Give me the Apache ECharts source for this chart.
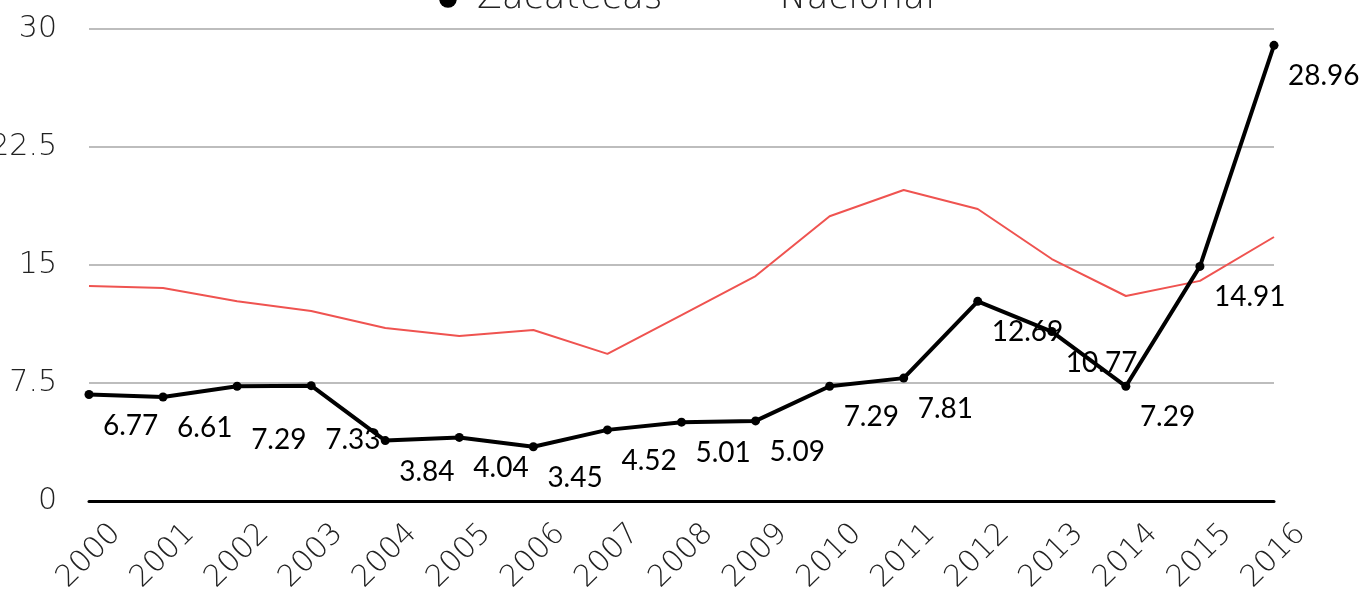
<!DOCTYPE html>
<html>
<head>
<meta charset="utf-8">
<script src="https://cdn.jsdelivr.net/npm/echarts@6/dist/echarts.min.js"></script>
<style>
  html, body { margin: 0; padding: 0; background: #fff; }
  #chart { width: 1364px; height: 595px; }
</style>
</head>
<body>
<div id="chart"></div>
<script>
// datos
var years = ["2000", "2001", "2002", "2003", "2004", "2005", "2006", "2007", "2008",
  "2009", "2010", "2011", "2012", "2013", "2014", "2015", "2016"];
var zacatecas = [6.77, 6.61, 7.29, 7.33, 3.84, 4.04, 3.45, 4.52, 5.01, 5.09, 7.29, 7.81,
  12.69, 10.77, 7.29, 14.91, 28.96];
var nacional = [13.67, 13.54, 12.7, 12.08, 11.0, 10.49, 10.87, 9.35, 11.82, 14.3, 18.1,
  19.77, 18.56, 15.38, 13.03, 13.99, 16.78];
var yTicks = [0, 7.5, 15, 22.5, 30];

// etiquetas que van más abajo (2002, 2003)
var lowLabels = { "2002": true, "2003": true };

var thinFont = "DejaVu Sans";

var chart = echarts.init(document.getElementById("chart"));

var zacData = zacatecas.map(function (v, i) {
  var item = { value: v };
  if (lowLabels[years[i]]) {
    item.label = { offset: [14, 54] };
  }
  return item;
});

chart.setOption({
  animation: false,
  backgroundColor: "#fff",
  legend: {
    top: -24,
    left: 418,
    itemWidth: 48,
    itemHeight: 22,
    itemGap: 64,
    textStyle: { fontFamily: thinFont, fontWeight: 200, fontSize: 36, color: "#222" },
    data: [
      { name: "Zacatecas" },
      { name: "Nacional", icon: "path://M0,0L46,0L46,2L0,2Z" }
    ]
  },
  grid: { left: 89, right: 90, top: 29, bottom: 94, outerBoundsMode: "none" },
  xAxis: {
    type: "category",
    boundaryGap: false,
    data: years,
    axisLine: { lineStyle: { color: "#000", width: 3 } },
    axisTick: { show: false },
    axisLabel: {
      rotate: 45,
      align: "center",
      verticalAlign: "middle",
      margin: 55,
      fontFamily: thinFont,
      fontWeight: 200,
      fontSize: 30,
      color: "#222"
    }
  },
  yAxis: {
    type: "value",
    min: yTicks[0],
    max: yTicks[yTicks.length - 1],
    interval: 7.5,
    axisLine: { show: false },
    axisTick: { show: false },
    splitLine: { lineStyle: { color: "#bdbdbd", width: 2 } },
    axisLabel: {
      margin: 32,
      fontFamily: thinFont,
      fontWeight: 200,
      fontSize: 30,
      color: "#222"
    }
  },
  series: [
    {
      name: "Nacional",
      type: "line",
      data: nacional,
      symbol: "none",
      lineStyle: { color: "#ef5350", width: 2 },
      itemStyle: { color: "#ef5350" },
      z: 2
    },
    {
      name: "Zacatecas",
      type: "line",
      data: zacData,
      symbol: "circle",
      symbolSize: 9,
      lineStyle: { color: "#000", width: 4 },
      itemStyle: { color: "#000" },
      label: {
        show: true,
        position: "inside",
        align: "left",
        verticalAlign: "middle",
        offset: [14, 31],
        fontFamily: "Lato",
        fontSize: 28,
        color: "#000"
      },
      z: 3
    }
  ]
});
</script>
</body>
</html>
